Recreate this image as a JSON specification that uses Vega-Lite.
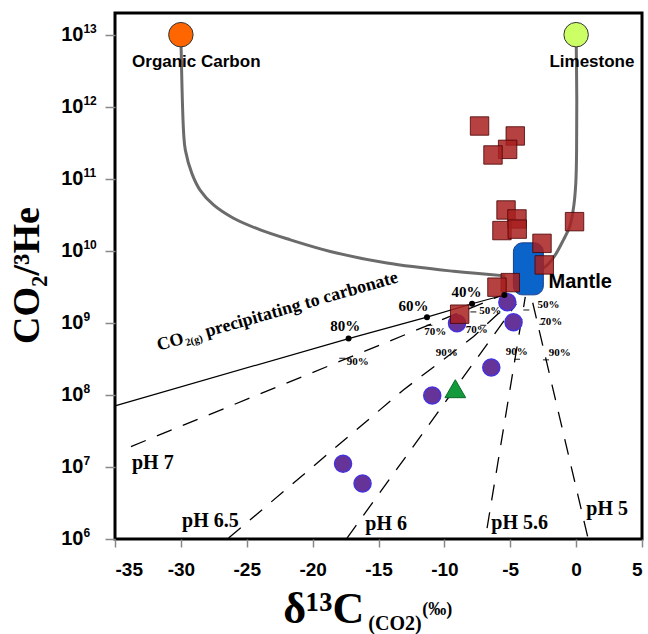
{
  "$schema": "https://vega.github.io/schema/vega-lite/v6.json",
  "width": 527,
  "height": 526,
  "autosize": {"type": "none"},
  "padding": {"left": 115, "top": 13, "right": 6, "bottom": 95},
  "background": "white",
  "config": {"view": {"stroke": "black", "strokeWidth": 3}, "axis": {"grid": false}},
  "datasets": {
    "curves": [
      {"curve": "organic", "i": 0, "x": -30.0, "y": 1e13},
      {"curve": "organic", "i": 1, "x": -29.79, "y": 4.3e11},
      {"curve": "organic", "i": 2, "x": -29.66, "y": 2.5e11},
      {"curve": "organic", "i": 3, "x": -29.16, "y": 1.18e11},
      {"curve": "organic", "i": 4, "x": -28.53, "y": 6.9e10},
      {"curve": "organic", "i": 5, "x": -27.52, "y": 4.33e10},
      {"curve": "organic", "i": 6, "x": -26.0, "y": 2.83e10},
      {"curve": "organic", "i": 7, "x": -23.97, "y": 1.95e10},
      {"curve": "organic", "i": 8, "x": -21.69, "y": 1.42e10},
      {"curve": "organic", "i": 9, "x": -18.66, "y": 9.8e9},
      {"curve": "organic", "i": 10, "x": -14.36, "y": 6.76e9},
      {"curve": "organic", "i": 11, "x": -9.3, "y": 5.2e9},
      {"curve": "organic", "i": 12, "x": -5.38, "y": 4.49e9},
      {"curve": "limestone", "i": 0, "x": 0.0, "y": 1e13},
      {"curve": "limestone", "i": 1, "x": 0.05, "y": 1.2e12},
      {"curve": "limestone", "i": 2, "x": 0.035, "y": 2.45e11},
      {"curve": "limestone", "i": 3, "x": -0.025, "y": 8.7e10},
      {"curve": "limestone", "i": 4, "x": -0.18, "y": 4.17e10},
      {"curve": "limestone", "i": 5, "x": -0.48, "y": 2.19e10},
      {"curve": "limestone", "i": 6, "x": -0.97, "y": 1.41e10},
      {"curve": "limestone", "i": 7, "x": -1.5, "y": 9.3e9},
      {"curve": "limestone", "i": 8, "x": -2.04, "y": 6.76e9},
      {"curve": "limestone", "i": 9, "x": -2.64, "y": 5.43e9},
      {"curve": "limestone", "i": 10, "x": -3.1, "y": 4.63e9}
    ],
    "precip": [
      {"i": 0, "x": -35, "y": 7.06e7, "dot": false},
      {"i": 1, "x": -17.27, "y": 6.05e8, "dot": true},
      {"i": 2, "x": -11.32, "y": 1.2e9, "dot": true},
      {"i": 3, "x": -7.9, "y": 1.84e9, "dot": true},
      {"i": 4, "x": -5.45, "y": 2.44e9, "dot": true}
    ],
    "ph": [
      {"line": "pH 7", "i": 0, "x": -33.79, "y": 1.92e7},
      {"line": "pH 7", "i": 1, "x": -5.75, "y": 2.37e9},
      {"line": "pH 6.5", "i": 0, "x": -26.38, "y": 1.03e6},
      {"line": "pH 6.5", "i": 1, "x": -13.09, "y": 1.18e8},
      {"line": "pH 6.5", "i": 2, "x": -7.78, "y": 6.46e8},
      {"line": "pH 6.5", "i": 3, "x": -5.88, "y": 1.36e9},
      {"line": "pH 6.5", "i": 4, "x": -5.15, "y": 1.89e9},
      {"line": "pH 6", "i": 0, "x": -17.39, "y": 1.03e6},
      {"line": "pH 6", "i": 1, "x": -4.54, "y": 1.84e9},
      {"line": "pH 5.6", "i": 0, "x": -6.76, "y": 1.42e6},
      {"line": "pH 5.6", "i": 1, "x": -3.86, "y": 2.3e9},
      {"line": "pH 5", "i": 0, "x": 0.87, "y": 1.086e6},
      {"line": "pH 5", "i": 1, "x": -3.4, "y": 2.3e9}
    ],
    "ticks": [
      {"x": -17.75, "y": 3.22e8},
      {"x": -11.14, "y": 9.23e8},
      {"x": -7.8, "y": 1.42e9},
      {"x": -7.05, "y": 9.23e8},
      {"x": -4.49, "y": 3.12e8},
      {"x": -2.29, "y": 3.07e8},
      {"x": -3.78, "y": 1.51e9},
      {"x": -2.57, "y": 9.53e8}
    ],
    "circles": [
      {"x": -5.22, "y": 1.94e9},
      {"x": -9.04, "y": 9.9e8},
      {"x": -4.75, "y": 1.02e9},
      {"x": -6.44, "y": 2.4e8},
      {"x": -10.92, "y": 9.8e7},
      {"x": -17.69, "y": 1.11e7},
      {"x": -16.21, "y": 5.9e6}
    ],
    "triangle": [{"x": -9.17, "y": 1.22e8}],
    "mantle": [{"x": -4.76, "x2": -2.49, "y": 1.29e10, "y2": 2.45e9}],
    "squares": [
      {"x": -7.33, "y": 5.4e11},
      {"x": -4.62, "y": 3.93e11},
      {"x": -5.2, "y": 2.56e11},
      {"x": -6.31, "y": 2.14e11},
      {"x": -5.32, "y": 3.69e10},
      {"x": -4.49, "y": 2.77e10},
      {"x": -5.63, "y": 1.91e10},
      {"x": -4.47, "y": 2.0e10},
      {"x": -0.12, "y": 2.54e10},
      {"x": -2.59, "y": 1.27e10},
      {"x": -2.42, "y": 6.37e9},
      {"x": -5.0, "y": 3.62e9},
      {"x": -6.01, "y": 3.13e9},
      {"x": -8.84, "y": 1.32e9}
    ],
    "sources": [
      {"name": "Organic Carbon", "x": -30, "y": 1e13},
      {"name": "Limestone", "x": 0, "y": 1e13}
    ],
    "sourceLabels": [
      {"label": "Organic Carbon", "x": -28.83, "y": 3.59e12},
      {"label": "Limestone", "x": 1.2, "y": 3.59e12}
    ],
    "mantleLabel": [{"label": "Mantle", "x": -2.09, "y": 3.0e9}],
    "bigPct": [
      {"label": "80%", "x": -17.52, "y": 7.74e8},
      {"label": "60%", "x": -12.34, "y": 1.44e9},
      {"label": "40%", "x": -8.33, "y": 2.32e9}
    ],
    "smallPct": [
      {"label": "90%", "x": -16.57, "y": 2.85e8},
      {"label": "70%", "x": -10.69, "y": 7.38e8},
      {"label": "50%", "x": -6.51, "y": 1.48e9},
      {"label": "70%", "x": -7.54, "y": 7.87e8},
      {"label": "90%", "x": -9.82, "y": 3.8e8},
      {"label": "90%", "x": -4.5, "y": 3.93e8},
      {"label": "90%", "x": -1.24, "y": 3.8e8},
      {"label": "50%", "x": -2.09, "y": 1.78e9},
      {"label": "70%", "x": -1.88, "y": 1.03e9}
    ],
    "phLabels": [
      {"label": "pH 7", "x": -33.71, "y": 9.35e6},
      {"label": "pH 6.5", "x": -29.91, "y": 1.45e6},
      {"label": "pH 6", "x": -16.0, "y": 1.35e6},
      {"label": "pH 5.6", "x": -6.44, "y": 1.38e6},
      {"label": "pH 5", "x": 0.77, "y": 2.17e6}
    ],
    "precipBig": [
      {"label": "CO", "x": -31.68, "y": 4.09e8},
      {"label": "precipitating to carbonate", "x": -28.02, "y": 6.35e8}
    ],
    "precipSmall": [{"label": "2(g)", "x": -29.57, "y": 4.76e8}],
    "yLabels": [
      {"x": -37.4, "y": 1e6, "exp": "6"},
      {"x": -37.4, "y": 1e7, "exp": "7"},
      {"x": -37.4, "y": 1e8, "exp": "8"},
      {"x": -37.4, "y": 1e9, "exp": "9"},
      {"x": -37.4, "y": 1e10, "exp": "10"},
      {"x": -37.4, "y": 1e11, "exp": "11"},
      {"x": -37.4, "y": 1e12, "exp": "12"},
      {"x": -37.4, "y": 1e13, "exp": "13"}
    ],
    "xTitleMain": [{"label": "δ¹³C", "x": -22.23, "y": 6.9e4}],
    "xTitleSub": [{"label": "(CO2)", "x": -15.77, "y": 5.5e4}],
    "xTitleUnit": [{"label": "(‰)", "x": -11.68, "y": 8.9e4}]
  },
  "encoding": {
    "x": {
      "field": "x", "type": "quantitative",
      "scale": {"domain": [-35, 5], "nice": false, "zero": false},
      "axis": {
        "values": [-35, -30, -25, -20, -15, -10, -5, 0, 5],
        "labelExpr": "datum.value + ''",
        "labelFont": "Liberation Sans", "labelFontWeight": "bold", "labelFontSize": 19,
        "labelColor": "black", "labelPadding": 13,
        "tickSize": 8, "tickColor": "#888888", "tickWidth": 1.5,
        "domain": false, "title": null
      }
    },
    "y": {
      "field": "y", "type": "quantitative",
      "scale": {"type": "log", "domain": [1e6, 2e13], "nice": false},
      "axis": {
        "values": [1e6, 1e7, 1e8, 1e9, 1e10, 1e11, 1e12, 1e13],
        "labels": false,
        "tickSize": 10, "tickColor": "#888888", "tickWidth": 1.5,
        "domain": false,
        "title": "CO₂/³He",
        "titleFont": "Liberation Serif", "titleFontSize": 38, "titleFontWeight": "bold",
        "titleColor": "black", "titleAngle": -90, "titleX": -77, "titleY": 262,
        "titleBaseline": "alphabetic", "titleAlign": "center"
      }
    }
  },
  "layer": [
    {
      "data": {"name": "curves"},
      "mark": {"type": "line", "color": "#6b6b6b", "strokeWidth": 3, "interpolate": "catmull-rom"},
      "encoding": {"detail": {"field": "curve"}, "order": {"field": "i"}}
    },
    {
      "data": {"name": "precip"},
      "mark": {"type": "line", "color": "black", "strokeWidth": 1.2},
      "encoding": {"order": {"field": "i"}}
    },
    {
      "data": {"name": "ph"},
      "mark": {"type": "line", "color": "black", "strokeWidth": 1.3, "strokeDash": [16, 12]},
      "encoding": {"detail": {"field": "line"}, "order": {"field": "i"}}
    },
    {
      "data": {"name": "ticks"},
      "mark": {"type": "point", "shape": "stroke", "size": 36, "stroke": "black", "strokeWidth": 1.3, "filled": false}
    },
    {
      "data": {"name": "circles"},
      "mark": {"type": "point", "shape": "circle", "filled": true, "size": 290, "fill": "#663399", "stroke": "#4433dd", "strokeWidth": 1.5, "opacity": 1}
    },
    {
      "data": {"name": "triangle"},
      "mark": {"type": "point", "shape": "triangle-up", "filled": true, "size": 430, "fill": "#129a3c", "stroke": "#0b6a27", "strokeWidth": 1, "opacity": 1}
    },
    {
      "data": {"name": "mantle"},
      "mark": {"type": "rect", "fill": "#0a64c9", "stroke": "#173f8a", "strokeWidth": 1, "cornerRadius": 9},
      "encoding": {"x2": {"field": "x2"}, "y2": {"field": "y2"}}
    },
    {
      "data": {"name": "squares"},
      "mark": {"type": "point", "shape": "square", "filled": true, "size": 340, "fill": "#a82020", "fillOpacity": 0.85, "stroke": "#4a0000", "strokeWidth": 1, "strokeOpacity": 0.8}
    },
    {
      "data": {"name": "precip"},
      "transform": [{"filter": "datum.dot"}],
      "mark": {"type": "point", "shape": "circle", "filled": true, "size": 36, "fill": "black", "opacity": 1}
    },
    {
      "data": {"name": "sources"},
      "mark": {"type": "point", "shape": "circle", "filled": true, "size": 600, "stroke": "#333333", "strokeWidth": 1, "opacity": 1},
      "encoding": {
        "fill": {"field": "name", "type": "nominal", "scale": {"domain": ["Organic Carbon", "Limestone"], "range": ["#ff6600", "#ccff66"]}, "legend": null}
      }
    },
    {
      "data": {"name": "sourceLabels"},
      "mark": {"type": "text", "font": "Liberation Sans", "fontWeight": "bold", "fontSize": 17, "align": "center", "baseline": "alphabetic", "color": "black"},
      "encoding": {"text": {"field": "label"}}
    },
    {
      "data": {"name": "mantleLabel"},
      "mark": {"type": "text", "font": "Liberation Sans", "fontWeight": "bold", "fontSize": 20, "align": "left", "baseline": "alphabetic", "color": "black"},
      "encoding": {"text": {"field": "label"}}
    },
    {
      "data": {"name": "bigPct"},
      "mark": {"type": "text", "font": "Liberation Serif", "fontWeight": "bold", "fontSize": 15, "align": "center", "baseline": "alphabetic", "color": "black"},
      "encoding": {"text": {"field": "label"}}
    },
    {
      "data": {"name": "smallPct"},
      "mark": {"type": "text", "font": "Liberation Serif", "fontWeight": "bold", "fontSize": 11, "align": "center", "baseline": "middle", "color": "black"},
      "encoding": {"text": {"field": "label"}}
    },
    {
      "data": {"name": "phLabels"},
      "mark": {"type": "text", "font": "Liberation Serif", "fontWeight": "bold", "fontSize": 20, "align": "left", "baseline": "alphabetic", "color": "black"},
      "encoding": {"text": {"field": "label"}}
    },
    {
      "data": {"name": "precipBig"},
      "mark": {"type": "text", "font": "Liberation Serif", "fontWeight": "bold", "fontSize": 18, "align": "left", "baseline": "alphabetic", "angle": -16, "color": "black"},
      "encoding": {"text": {"field": "label"}}
    },
    {
      "data": {"name": "precipSmall"},
      "mark": {"type": "text", "font": "Liberation Serif", "fontWeight": "bold", "fontSize": 10.5, "align": "left", "baseline": "alphabetic", "angle": -16, "color": "black"},
      "encoding": {"text": {"field": "label"}}
    },
    {
      "data": {"name": "yLabels"},
      "mark": {"type": "text", "font": "Liberation Sans", "fontWeight": "bold", "fontSize": 20, "align": "right", "baseline": "middle", "color": "black"},
      "encoding": {"text": {"value": "10"}}
    },
    {
      "data": {"name": "yLabels"},
      "mark": {"type": "text", "font": "Liberation Sans", "fontWeight": "bold", "fontSize": 12, "align": "left", "baseline": "middle", "dy": -6, "color": "black"},
      "encoding": {"text": {"field": "exp"}}
    },
    {
      "data": {"name": "xTitleMain"},
      "mark": {"type": "text", "font": "Liberation Serif", "fontWeight": "bold", "fontSize": 44, "align": "left", "baseline": "alphabetic", "color": "black"},
      "encoding": {"text": {"field": "label"}}
    },
    {
      "data": {"name": "xTitleSub"},
      "mark": {"type": "text", "font": "Liberation Serif", "fontWeight": "bold", "fontSize": 20, "align": "left", "baseline": "alphabetic", "color": "black"},
      "encoding": {"text": {"field": "label"}}
    },
    {
      "data": {"name": "xTitleUnit"},
      "mark": {"type": "text", "font": "Liberation Serif", "fontWeight": "bold", "fontSize": 18, "align": "left", "baseline": "alphabetic", "color": "black"},
      "encoding": {"text": {"field": "label"}}
    }
  ]
}
